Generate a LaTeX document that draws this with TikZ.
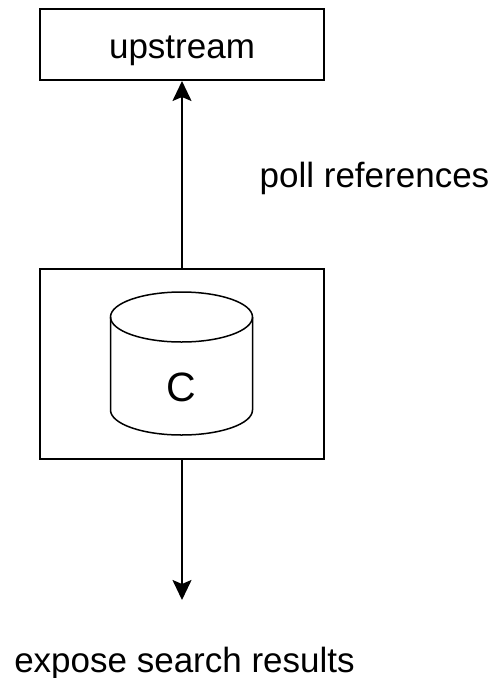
\documentclass[tikz,border=0pt]{standalone}
\usepackage{fontspec}
\setmainfont{Liberation Sans}
\usetikzlibrary{arrows.meta}
\usetikzlibrary{positioning}

\tikzset{
  box/.style={draw, line width=2pt, minimum width=284pt, inner sep=0pt},
  label/.style={font=\fontsize{35}{40}\selectfont, inner sep=0pt, anchor=base},
  flow/.style={line width=2pt, -{Stealth[length=20pt, width=19pt, inset=4pt]}}
}

\begin{document}
\begin{tikzpicture}[x=1pt, y=-1pt]
  \useasboundingbox (0,0) rectangle (492,678);
  % boxes
  \node[box, minimum height=71pt] (upstream) at (182,44.5) {};
  \node[box, minimum height=190pt] (cache) at (182,364) {};
  \node[label] (upstreamtext) at (182,58) {upstream};
  % cylinder
  \draw[line width=1.5pt] (110.5,317) -- (110.5,410) arc (180:360:71pt and 25pt) -- (252.5,317);
  \draw[line width=1.5pt] (181.5,317) ellipse (71pt and 25pt);
  \node[label, font=\fontsize{41}{46}\selectfont] (db) at (181.5,401) {C};
  % arrows
  \coordinate (out) at (182,600);
  \draw[flow] (cache.north) -- (upstream.south);
  \draw[flow] (cache.south) -- (out);
  \node[label] (poll) at (374.5,187) {poll references};
  \node[label] (expose) at (184.5,672) {expose search results};
\end{tikzpicture}
\end{document}
